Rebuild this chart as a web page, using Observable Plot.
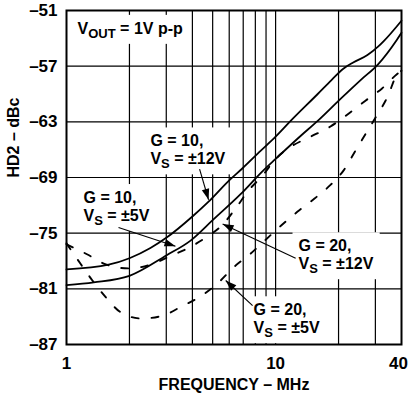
<!DOCTYPE html>
<html><head><meta charset="utf-8">
<script src="https://cdn.jsdelivr.net/npm/d3@7"></script>
<script src="https://cdn.jsdelivr.net/npm/@observablehq/plot@0.6"></script>
<style>body{margin:0;background:#fff}</style>
</head><body><div id="chart"></div>
<script>
// Axis ticks and grid
const xTicks = [1, 10, 40];
const yTicks = [-87, -81, -75, -69, -63, -57, -51];
const xGrid = [2, 3, 4, 5, 6, 7, 8, 9, 10, 20, 30];
const yGrid = [-81, -75, -69, -63, -57];

// G = 10, VS = ±12V (solid, upper)
const fG10V12 = [1, 1.59, 2, 2.52, 3, 4, 4.78, 6, 6.95, 8.5, 10, 11.8, 15.9, 18.5, 21, 23.5, 27.5, 30.9, 32.9, 40];
const dbG10V12 = [-78.9, -78.4, -77.7, -76.6, -75.5, -73.2, -71.6, -69.3, -68.0, -66.1, -64.6, -62.9, -60.0, -58.5, -57.3, -56.6, -55.8, -54.9, -54.3, -52.1];
// G = 10, VS = ±5V (solid, lower)
const fG10V5 = [1, 1.35, 2, 3, 3.92, 5, 6.8, 8.77, 10, 13.2, 15.9, 20.5, 25.5, 30.9, 37.9, 40];
const dbG10V5 = [-80.6, -80.3, -79.6, -77.4, -75.8, -73.6, -70.8, -68.2, -67.0, -64.5, -62.9, -60.5, -58.5, -56.8, -54.2, -53.4];
// G = 20, VS = ±12V (dashed, upper)
const fG20V12 = [1, 1.26, 1.554, 1.98, 2.52, 3.11, 3.75, 4.62, 5.57, 6.5, 7.42, 8.66, 10, 11.8, 14.7, 18.3, 22.4, 27, 32.3, 37.9, 40];
const dbG20V12 = [-76.2, -77.3, -78.4, -78.8, -78.4, -77.5, -76.7, -75.5, -74.1, -72.2, -70.4, -68.8, -67.0, -65.7, -64.6, -63.5, -62.1, -60.7, -59.4, -57.9, -57.5];
// G = 20, VS = ±5V (dashed, lower)
const fG20V5 = [1, 1.167, 1.33, 1.54, 1.81, 2.28, 2.88, 3.55, 4.38, 5.4, 6.28, 7.6, 8.87, 10.6, 12.7, 15.3, 18.3, 21.2, 24.1, 27.3, 30.5, 34.3, 37.9, 40];
const dbG20V5 = [-76.1, -78.3, -80.1, -81.9, -83.5, -84.2, -83.9, -82.9, -81.8, -80.2, -78.7, -77.2, -75.8, -74.2, -72.7, -71.3, -69.8, -68.2, -66.1, -64.1, -62.3, -60.3, -58.0, -57.5];

// Annotation labels (text, anchor frequency, anchor dBc)
const labelTexts = ["V_OUT = 1V p-p", "G = 10,\nV_S = ±12V", "G = 10,\nV_S = ±5V", "G = 20,\nV_S = ±12V", "G = 20,\nV_S = ±5V"];
const labelFreq = [1.129, 2.52, 1.206, 12.87, 7.85];
const labelDb = [-52.9, -66.0, -72.1, -77.3, -84.2];

// Arrows: from (f1, db1) to (f2, db2)
const arrowF1 = [4.33, 1.773, 12.47, 7.76];
const arrowDb1 = [-68.1, -74.4, -77.7, -82.8];
const arrowF2 = [4.78, 3.32, 5.58, 5.77];
const arrowDb2 = [-71.4, -76.4, -74.0, -80.1];

const xLabel = "FREQUENCY – MHz";
const yLabel = "HD2 – dBc";

const toRows = (name, fs, dbs) => fs.map((f, i) => ({s: name, f, db: dbs[i]}));
const solidRows = [...toRows("G10V12", fG10V12, dbG10V12), ...toRows("G10V5", fG10V5, dbG10V5)];
const dashRows = [...toRows("G20V12", fG20V12, dbG20V12), ...toRows("G20V5", fG20V5, dbG20V5)];
const labels = labelTexts.map((t, i) => ({t, f: labelFreq[i], db: labelDb[i]}));
const arrows = arrowF1.map((f1, i) => ({f1, d1: arrowDb1[i], f2: arrowF2[i], d2: arrowDb2[i]}));

const svg = Plot.plot({
  width: 409,
  height: 396,
  marginLeft: 66,
  marginRight: 8,
  marginTop: 10,
  marginBottom: 52,
  style: {fontFamily: "'Liberation Sans', Arial, Helvetica, sans-serif", fontSize: "17px", fontWeight: "bold", color: "black", background: "white"},
  x: {type: "log", domain: [1, 40], ticks: xTicks, tickSize: 0, tickPadding: 12, tickFormat: d => String(d), label: null},
  y: {domain: [-87, -51], ticks: yTicks, tickSize: 0, tickPadding: 9, tickFormat: d => "–" + Math.abs(d), label: null},
  marks: [
    Plot.ruleX(xGrid, {stroke: "black", strokeWidth: 1.2}),
    Plot.ruleY(yGrid, {stroke: "black", strokeWidth: 1.2}),
    Plot.text(labels, {x: "f", y: "db", text: "t", textAnchor: "start", lineHeight: 1.12, fontSize: 16, fill: "black"}),
    Plot.line(solidRows, {x: "f", y: "db", z: "s", stroke: "black", strokeWidth: 1.8, curve: "monotone-x"}),
    Plot.line(dashRows, {x: "f", y: "db", z: "s", stroke: "black", strokeWidth: 1.9, strokeDasharray: "7,13", curve: "monotone-x"}),
    Plot.link(arrows, {x1: "f1", y1: "d1", x2: "f2", y2: "d2", stroke: "black", strokeWidth: 1.1, markerEnd: "arrow"}),
    Plot.frame({stroke: "black", strokeWidth: 2}),
    Plot.text([xLabel], {frameAnchor: "bottom", text: d => d, dy: 45, fontSize: 16, fill: "black"}),
    Plot.text([yLabel], {frameAnchor: "left", text: d => d, rotate: -90, dx: -53, fontSize: 16, fill: "black"})
  ]
});
document.getElementById("chart").append(svg);

const NS = "http://www.w3.org/2000/svg";
function applySub(node) {
  const s = node.textContent;
  const m = s.match(/^(.*?)_(OUT|S)(.*)$/);
  if (!m) return;
  node.textContent = m[1];
  const sub = document.createElementNS(NS, "tspan");
  sub.setAttribute("dy", "4");
  sub.setAttribute("font-size", "13");
  sub.textContent = m[2];
  const rest = document.createElementNS(NS, "tspan");
  rest.setAttribute("dy", "-4");
  rest.textContent = m[3];
  node.append(sub, rest);
}
svg.querySelectorAll("text").forEach(t => {
  if (t.textContent === "40") t.setAttribute("dx", "-3");
  if (!t.textContent.includes("_")) return;
  const spans = Array.from(t.children).filter(c => c.tagName === "tspan");
  if (spans.length) spans.forEach(applySub); else applySub(t);
  const b = t.getBBox();
  const r = document.createElementNS(NS, "rect");
  r.setAttribute("x", b.x - 6);
  r.setAttribute("y", b.y - 5);
  r.setAttribute("width", b.width + 12);
  r.setAttribute("height", b.height + 8);
  r.setAttribute("fill", "white");
  const tr = t.getAttribute("transform");
  if (tr) r.setAttribute("transform", tr);
  t.parentNode.insertBefore(r, t);
});
svg.querySelectorAll("marker").forEach(m => {
  m.setAttribute("viewBox", "-12 -5 12 10");
  m.setAttribute("markerWidth", "12");
  m.setAttribute("markerHeight", "10");
  m.setAttribute("markerUnits", "userSpaceOnUse");
  m.setAttribute("refX", "0");
  m.setAttribute("refY", "0");
  m.setAttribute("fill", "black");
  m.setAttribute("stroke", "none");
  while (m.firstChild) m.removeChild(m.firstChild);
  const p = document.createElementNS(NS, "path");
  p.setAttribute("d", "M-11,-3.8L0,0L-11,3.8Z");
  m.append(p);
});
</script>
</body></html>
